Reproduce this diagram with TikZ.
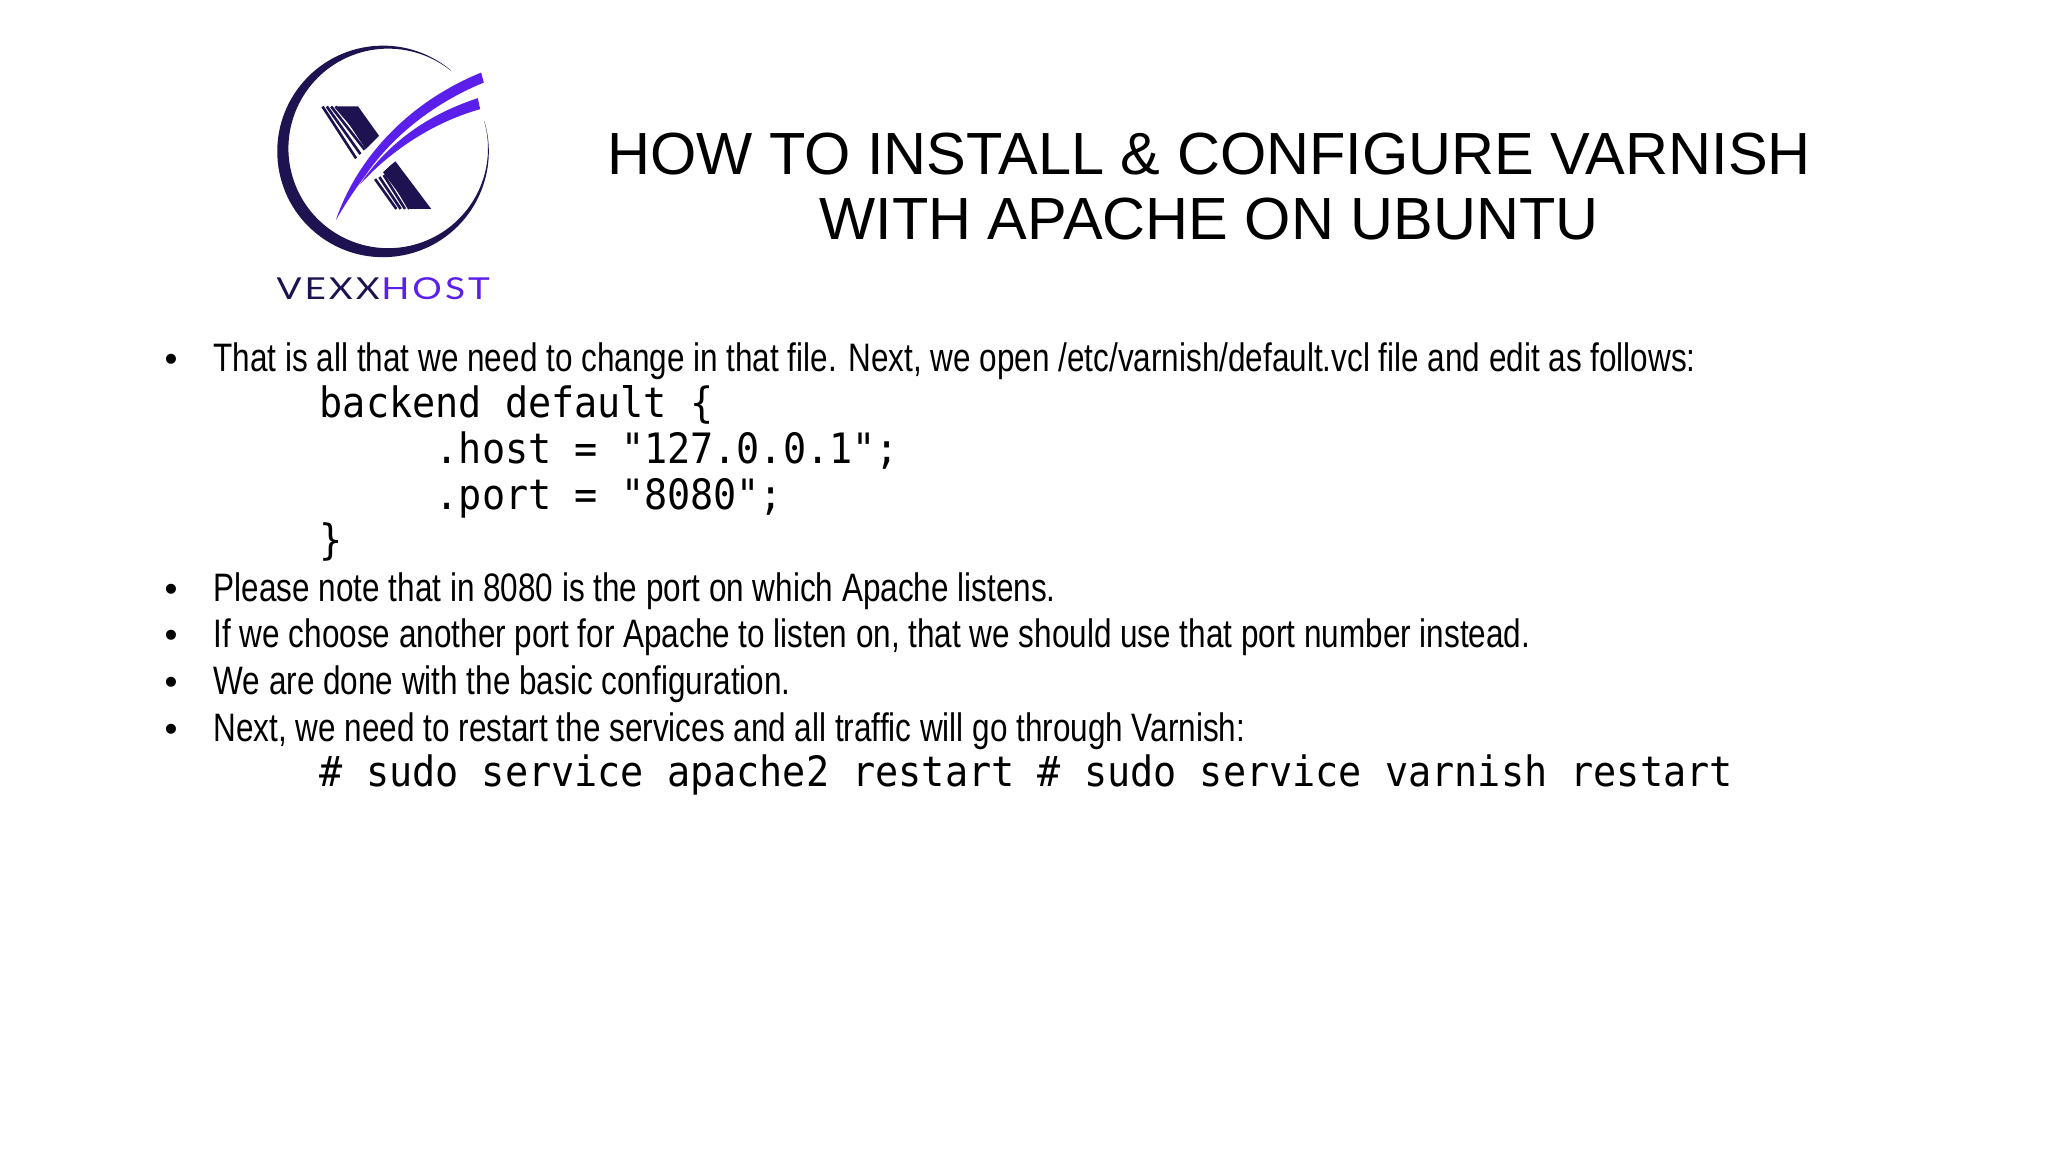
\documentclass[tikz,border=0pt]{standalone}
\usepackage{fontspec}
\setmainfont{Liberation Sans}
\newfontfamily\bodyfont[FakeStretch=0.793]{Liberation Sans}
\newfontfamily\codefont[FakeStretch=0.92]{DejaVu Sans Mono}
\newfontfamily\logofont[LetterSpace=10,FakeStretch=1.22]{Lato}
\definecolor{logodark}{HTML}{1E1250}
\definecolor{logopurple}{HTML}{5A1FEA}
\usetikzlibrary{positioning}
\tikzset{
	titletext/.style={font=\fontsize{16.93pt}{18.35pt}\selectfont, align=center, inner sep=0pt},
	bodytext/.style={anchor=base west, font=\bodyfont\fontsize{11.3pt}{13pt}\selectfont, inner sep=0pt},
	codetext/.style={anchor=base west, font=\codefont\fontsize{11.9pt}{13pt}\selectfont, inner sep=0pt},
	bulletdot/.style={anchor=base, font=\fontsize{10.5pt}{13pt}\selectfont, inner sep=0pt},
	logotext/.style={anchor=base west, font=\logofont\fontsize{8.6pt}{10pt}\selectfont, inner sep=0pt}
}
\begin{document}
\begin{tikzpicture}
	\useasboundingbox (0,0) rectangle (20.48,-11.52);
	\fill[white] (0,0) rectangle (20.48,-11.52);

	% logo
	\begin{scope}[shift={(2.5,-0.3)}, x=0.003333cm, y=-0.003333cm]
		\fill[logodark] (600.1,117.9) arc[start angle=-51, end angle=-376, radius=318]
			-- (703.9,273.3) arc[start angle=-376, end angle=-51, radius=300] -- cycle;
		\fill[logodark] (262,230) -- (325,230) -- (388,318) -- (348,358) -- cycle;
		\fill[logodark] (435,392) -- (545,538) -- (482,538) -- (400,428) -- cycle;
		\foreach \i in {0,1,2,3} {
			\draw[logodark, line width=0.75pt] (218+\i*13,230) -- (332+\i*13-13,386-\i*13);
			\draw[logodark, line width=0.75pt] (376+\i*13,448-\i*6) -- (440+\i*13,538);
		}
		\fill[white] (250,580) .. controls (330,390) and (470,220) .. (705,120) -- (705,250) .. controls (560,290) and (400,400) .. cycle;
		\fill[logopurple] (258,572) .. controls (320,390) and (470,220) .. (695,128) -- (703,158)
			.. controls (540,225) and (420,330) .. (345,440) .. controls (315,480) and (285,525) .. cycle;
		\fill[logopurple] (330,465) .. controls (410,345) and (530,255) .. (685,205) -- (692,238)
			.. controls (560,275) and (430,355) .. cycle;
	\end{scope}
	\node[logotext, text=logodark] (vexx) at (2.76,-2.995) {VEXX};
	\node[logotext, text=logopurple] (host) [right=0pt of vexx.base east, anchor=base west] {HOST};

	% title
	\node[titletext] (title) at (12.09,-1.865) {HOW TO INSTALL \& CONFIGURE VARNISH\\WITH APACHE ON UBUNTU};

	% text lines
	\node[bodytext] (L_1) at (2.13,-3.72) {That is all that we need to change in that file. Next, we open /etc/varnish/default.vcl file and edit as follows:};
	\node[codetext] (C_1) at (3.19,-4.175) {backend default \{};
	\node[codetext] (C_2) at (4.35,-4.64) {.host = "127.0.0.1";};
	\node[codetext] (C_3) at (4.35,-5.10) {.port = "8080";};
	\node[codetext] (C_4) at (3.19,-5.55) {\}};
	\node[bodytext] (L_2) at (2.13,-6.02) {Please note that in 8080 is the port on which Apache listens.};
	\node[bodytext] (L_3) at (2.13,-6.48) {If we choose another port for Apache to listen on, that we should use that port number instead.};
	\node[bodytext] (L_4) at (2.13,-6.94) {We are done with the basic configuration.};
	\node[bodytext] (L_5) at (2.13,-7.41) {Next, we need to restart the services and all traffic will go through Varnish:};
	\node[codetext] (C_5) at (3.19,-7.865) {\# sudo service apache2 restart \# sudo service varnish restart};

	% bullets
	\foreach \n/\y in {1/-3.72,2/-6.02,3/-6.48,4/-6.94,5/-7.41}
		\node[bulletdot] (B_\n) at (1.71,\y) {•};
\end{tikzpicture}
\end{document}
